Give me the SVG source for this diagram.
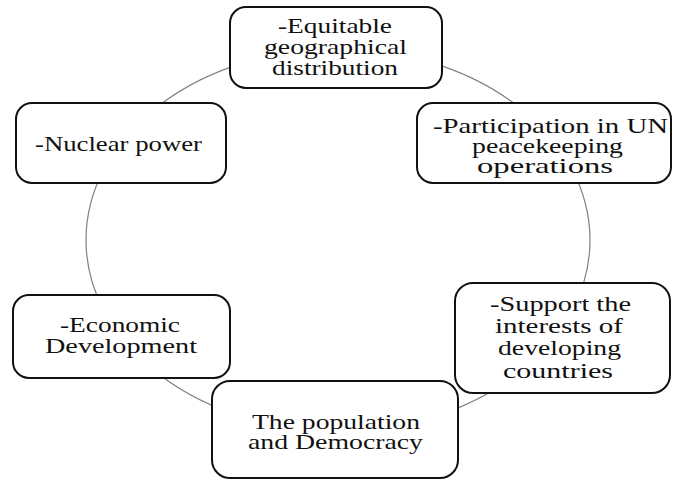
<svg xmlns="http://www.w3.org/2000/svg" width="675" height="481" viewBox="0 0 675 481">
<style>
.box{fill:#fff;stroke:#111;stroke-width:2}
.lbl{font-family:"Liberation Serif","Times New Roman",serif;font-size:21px;fill:#111;text-anchor:middle}
.ring{fill:none;stroke:#808080;stroke-width:1.2}
</style>
<rect width="675" height="481" fill="#fff"/>
<g id="connectors">
<ellipse class="ring" cx="338" cy="240" rx="252" ry="191"/>
</g>
<g id="node-equitable">
<rect class="box" x="230" y="7" width="212" height="81" rx="16"/>
<text class="lbl" x="335" y="33" textLength="114" lengthAdjust="spacingAndGlyphs">-Equitable</text>
<text class="lbl" x="335.5" y="54" textLength="143" lengthAdjust="spacingAndGlyphs">geographical</text>
<text class="lbl" x="335" y="75" textLength="126" lengthAdjust="spacingAndGlyphs">distribution</text>
</g>
<g id="node-peacekeeping">
<rect class="box" x="417" y="103" width="254" height="80" rx="16"/>
<text class="lbl" x="550.5" y="133" textLength="235" lengthAdjust="spacingAndGlyphs">-Participation  in UN</text>
<text class="lbl" x="547.5" y="153" textLength="151" lengthAdjust="spacingAndGlyphs">peacekeeping</text>
<text class="lbl" x="545" y="173" textLength="136" lengthAdjust="spacingAndGlyphs">operations</text>
</g>
<g id="node-support">
<rect class="box" x="455" y="283" width="215" height="110" rx="18"/>
<text class="lbl" x="560.5" y="311" textLength="141" lengthAdjust="spacingAndGlyphs">-Support the</text>
<text class="lbl" x="559" y="333" textLength="128" lengthAdjust="spacingAndGlyphs">interests of</text>
<text class="lbl" x="559.5" y="355" textLength="123" lengthAdjust="spacingAndGlyphs">developing</text>
<text class="lbl" x="558" y="378" textLength="110" lengthAdjust="spacingAndGlyphs">countries</text>
</g>
<g id="node-population">
<rect class="box" x="212" y="381" width="246" height="97" rx="18"/>
<text class="lbl" x="336" y="429" textLength="168" lengthAdjust="spacingAndGlyphs">The population</text>
<text class="lbl" x="335.5" y="449" textLength="175" lengthAdjust="spacingAndGlyphs">and Democracy</text>
</g>
<g id="node-economic">
<rect class="box" x="13" y="295" width="217" height="83" rx="16"/>
<text class="lbl" x="120" y="332" textLength="120" lengthAdjust="spacingAndGlyphs">-Economic</text>
<text class="lbl" x="121" y="353" textLength="152" lengthAdjust="spacingAndGlyphs">Development</text>
</g>
<g id="node-nuclear">
<rect class="box" x="16" y="103" width="210" height="80" rx="16"/>
<text class="lbl" x="118.5" y="151" textLength="167" lengthAdjust="spacingAndGlyphs">-Nuclear power</text>
</g>
</svg>
